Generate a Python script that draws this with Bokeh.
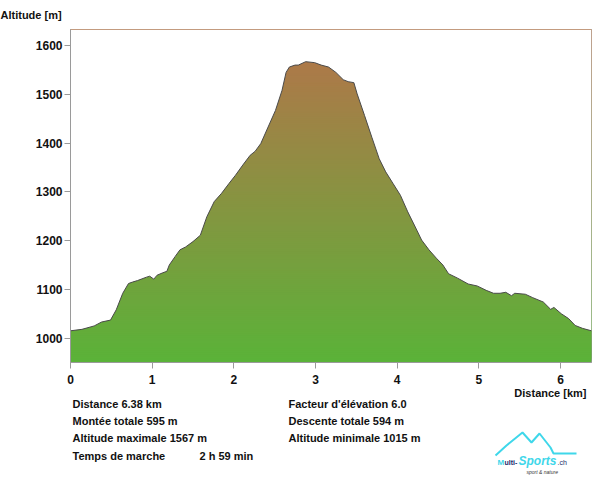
from bokeh.plotting import figure
from bokeh.models import FixedTicker, Range1d
from bokeh.layouts import column
from bokeh.core.properties import value
from bokeh.embed import file_html
from bokeh.resources import INLINE

# ---- data ----
dist_km = [0.00, 0.14, 0.29, 0.38, 0.49, 0.56, 0.64, 0.71, 0.76, 0.82, 0.93, 0.97,
           1.02, 1.06, 1.13, 1.18, 1.21, 1.28, 1.34, 1.41, 1.50, 1.59, 1.67, 1.76,
           1.85, 1.94, 2.02, 2.11, 2.20, 2.26, 2.33, 2.42, 2.51, 2.59, 2.64, 2.68,
           2.75, 2.79, 2.88, 2.99, 3.07, 3.16, 3.25, 3.34, 3.40, 3.47, 3.51, 3.60,
           3.69, 3.78, 3.86, 3.95, 4.04, 4.13, 4.21, 4.30, 4.39, 4.48, 4.56, 4.63,
           4.74, 4.87, 4.98, 5.09, 5.18, 5.26, 5.33, 5.40, 5.44, 5.57, 5.66, 5.79,
           5.88, 5.92, 6.01, 6.10, 6.18, 6.27, 6.38]
alt_m = [1015, 1018, 1025, 1033, 1037, 1058, 1092, 1112, 1115, 1118, 1125, 1127,
         1121, 1129, 1134, 1137, 1150, 1167, 1181, 1187, 1198, 1211, 1249, 1280,
         1297, 1317, 1334, 1355, 1375, 1383, 1399, 1433, 1467, 1508, 1545, 1556,
         1560, 1560, 1567, 1565, 1560, 1556, 1545, 1530, 1526, 1524, 1501, 1457,
         1412, 1368, 1341, 1317, 1293, 1259, 1232, 1201, 1181, 1164, 1150, 1132,
         1123, 1111, 1107, 1098, 1092, 1092, 1094, 1087, 1092, 1090, 1083, 1074,
         1059, 1063, 1050, 1040, 1026, 1020, 1015]
x_ticks = [0, 1, 2, 3, 4, 5, 6]
y_ticks = [1000, 1100, 1200, 1300, 1400, 1500, 1600]
y_title = "Altitude [m]"
x_title = "Distance [km]"
stats_left = ["Distance 6.38 km", "Montée totale  595 m", "Altitude maximale  1567 m", "Temps de marche"]
stats_right = ["Facteur d'élévation 6.0", "Descente totale  594 m", "Altitude minimale  1015 m"]
walk_time = "2 h 59 min"

X0, X1 = 0.0, 6.38
Y0, Y1 = 950.0, 1633.0
W = 605
FL, FR = 70, 591      # frame left / right in page pixels
MAIN_H = 386
BOT_H = 495 - MAIN_H
FONT = "Liberation Sans"

# ---- main chart ----
p = figure(width=W, height=MAIN_H, output_backend="svg", toolbar_location=None,
           x_range=Range1d(X0, X1), y_range=Range1d(Y0, Y1),
           min_border_left=FL, min_border_right=W - FR, min_border_top=29,
           min_border_bottom=MAIN_H - 363)
p.xgrid.visible = False
p.ygrid.visible = False
p.outline_line_color = "#9a9a9a"
p.background_fill_color = "white"
p.border_fill_color = "white"
p.title.text = y_title
p.title.align = "left"
p.title.offset = -FL
p.title.standoff = 14
p.title.vertical_align = "top"
p.title.text_font = FONT
p.title.text_font_style = "bold"
p.title.text_font_size = "11px"
p.title.text_color = "#111111"

# gradient background bands (green at bottom -> brown at top)
c_lo = (91, 179, 57)
c_hi = (178, 118, 74)
step = 4.0
bots, tops, cols = [], [], []
a = Y0
while a < Y1:
    fr = min(max((a - Y0) / (1600 - Y0), 0), 1)
    r = int(c_lo[0] + fr * (c_hi[0] - c_lo[0]))
    g = int(c_lo[1] + fr * (c_hi[1] - c_lo[1]))
    b = int(c_lo[2] + fr * (c_hi[2] - c_lo[2]))
    bots.append(a)
    tops.append(a + 3 * step)
    cols.append("#%02x%02x%02x" % (r, g, b))
    a += step
p.quad(left=X0, right=X1, bottom=bots, top=tops, fill_color=cols, line_color=None)

# mask above the profile
p.varea(x=dist_km, y1=alt_m, y2=Y1, fill_color="white")
p.line(dist_km, alt_m, line_color="#4a4a4a", line_width=1)

for ax in (p.xaxis[0], p.yaxis[0]):
    ax.axis_line_color = "#9a9a9a"
    ax.major_tick_line_color = "#9a9a9a"
    ax.major_tick_out = 6
    ax.major_tick_in = 0
    ax.minor_tick_line_color = None
    ax.major_label_text_font = FONT
    ax.major_label_text_font_style = "bold"
    ax.major_label_text_font_size = "12px"
    ax.major_label_text_color = "#111111"
p.xaxis.ticker = FixedTicker(ticks=x_ticks)
p.yaxis.ticker = FixedTicker(ticks=y_ticks)
p.xaxis.major_label_standoff = 6
p.yaxis.major_label_standoff = 2

# ---- bottom strip (coordinates = page pixels) ----
OY = MAIN_H
bot = figure(width=W, height=BOT_H, output_backend="svg", toolbar_location=None,
             x_range=Range1d(FL, FR), y_range=Range1d(BOT_H + OY, OY),
             x_axis_type=None, y_axis_type=None,
             min_border_left=FL, min_border_right=W - FR, min_border_top=0,
             min_border_bottom=0)
bot.xgrid.visible = False
bot.ygrid.visible = False
bot.outline_line_color = None
bot.background_fill_color = "white"
bot.border_fill_color = "white"


def put(f, txt, x, y, size="11px", align="left", color="#111111", style="bold"):
    f.text(x=[x], y=[y], text=[txt], text_font=value(FONT), text_font_size=size,
           text_font_style=style, text_color=color, text_align=align,
           text_baseline="middle")


put(bot, x_title, 586, 392, align="right")
rows = [403, 420, 437, 455]
for t, y in zip(stats_left, rows):
    put(bot, t, 72, y)
for t, y in zip(stats_right, rows):
    put(bot, t, 288, y)
put(bot, walk_time, 199, rows[3])

# logo
lx = [495, 506, 522, 531, 539, 550, 553, 576]
ly = [455, 445, 432, 442, 433, 447, 453, 453]
bot.line(lx, ly, line_color="#3fd7ea", line_width=2)
put(bot, "M", 497, 462, size="8px", color="#3fd7ea")
put(bot, "ulti-", 504, 462, size="7px", color="#1a2a6c")
put(bot, "Sports", 518, 460, size="12px", color="#3fd7ea", style="bold italic")
put(bot, ".ch", 557, 462, size="7px", color="#1a2a6c", style="normal")
put(bot, "sport & nature", 526, 471, size="5px", color="#333333", style="italic")

layout = column(p, bot, spacing=0)
open("out.html", "w").write(file_html(layout, INLINE))
